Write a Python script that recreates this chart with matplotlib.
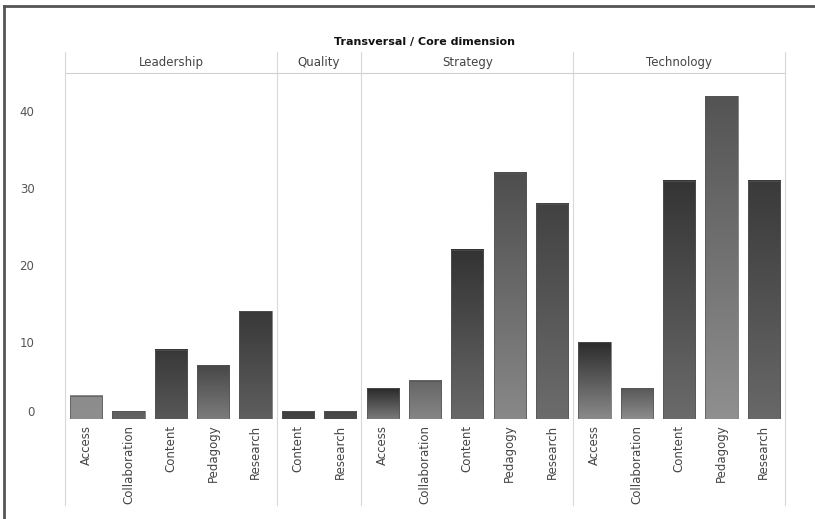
import matplotlib.pyplot as plt
import numpy as np
from matplotlib.colors import to_rgb
from matplotlib.transforms import blended_transform_factory
from matplotlib.lines import Line2D

# data
groups = ["Leadership", "Quality", "Strategy", "Technology"]
leadership_cats = ["Access", "Collaboration", "Content", "Pedagogy", "Research"]
leadership_vals = [3, 1, 9, 7, 14]
quality_cats = ["Content", "Research"]
quality_vals = [1, 1]
strategy_cats = ["Access", "Collaboration", "Content", "Pedagogy", "Research"]
strategy_vals = [4, 5, 22, 32, 28]
technology_cats = ["Access", "Collaboration", "Content", "Pedagogy", "Research"]
technology_vals = [10, 4, 31, 42, 31]

cats = [leadership_cats, quality_cats, strategy_cats, technology_cats]
vals = [leadership_vals, quality_vals, strategy_vals, technology_vals]

# shading of each bar (top, bottom)
shades = [
    [("#8c8c8c", "#8e8e8e"), ("#5e5e5e", "#646464"), ("#383838", "#585858"),
     ("#474747", "#7c7c7c"), ("#393939", "#5e5e5e")],
    [("#3e3e3e", "#444444"), ("#444444", "#4a4a4a")],
    [("#2a2a2a", "#7a7a7a"), ("#666666", "#858585"), ("#333333", "#686868"),
     ("#4e4e4e", "#888888"), ("#424242", "#6c6c6c")],
    [("#2c2c2c", "#8a8a8a"), ("#585858", "#8c8c8c"), ("#353535", "#6a6a6a"),
     ("#545454", "#8f8f8f"), ("#3a3a3a", "#686868")],
]

fig = plt.figure(figsize=(8.15, 5.19), dpi=100)
W, H = 815, 519
x0, x1, ytop, yzero = 65, 785, 73, 419
ax = fig.add_axes([x0 / W, 1 - yzero / H, (x1 - x0) / W, (yzero - ytop) / H])

labels = []
pos = 0
bounds = [-0.5]
centers = []
bw = 0.76
for g, (cs, vs, sh) in enumerate(zip(cats, vals, shades)):
    start = pos
    for c, v, (ct, cb) in zip(cs, vs, sh):
        n = 64
        t = np.linspace(0, 1, n)[:, None]
        grad = (1 - t) * np.array(to_rgb(cb)) + t * np.array(to_rgb(ct))
        ax.imshow(grad[:, None, :], extent=[pos - bw / 2, pos + bw / 2, 0, v],
                  origin="lower", aspect="auto", interpolation="bilinear", zorder=2)
        labels.append(c)
        pos += 1
    ax.bar(np.arange(start, pos), vs, width=bw, fill=False,
           edgecolor="#555555", linewidth=0.5, zorder=3)
    centers.append((start + pos - 1) / 2)
    bounds.append(pos - 0.5)

ax.set_xlim(-0.5, pos - 0.5)
ax.set_ylim(0, 45)

for s in ax.spines.values():
    s.set_visible(False)
ax.axhline(0, color="#d0d0d0", lw=0.8, zorder=1)
ax.axhline(45, color="#d0d0d0", lw=0.8, zorder=1, clip_on=False)

tr = blended_transform_factory(ax.transData, ax.transAxes)
for b in bounds:
    ax.plot([b, b], [(yzero - 505) / (yzero - ytop), (yzero - 52) / (yzero - ytop)],
            color="#d8d8d8", lw=0.8, transform=tr, clip_on=False, zorder=1)

for c, g in zip(centers, groups):
    ax.text(c, (yzero - 62) / (yzero - ytop), g, transform=tr, ha="center", va="center",
            fontsize=8.5, color="#444444", fontfamily="DejaVu Sans")

fig.text(425 / W, 1 - 42 / H, "Transversal / Core dimension", ha="center", va="center",
         fontsize=8, fontweight="bold", color="#111111")

ax.set_xticks(np.arange(pos))
ax.set_xticklabels(labels, rotation=90, fontsize=8.5, color="#444444")
ax.set_yticks([0, 10, 20, 30, 40])
ax.set_yticklabels(["0", "10", "20", "30", "40"], fontsize=8.5, color="#555555")
ax.get_yticklabels()[0].set_verticalalignment("bottom")
ax.tick_params(axis="both", length=0)
ax.tick_params(axis="x", pad=4)
ax.tick_params(axis="y", pad=22)

# frame at left and top
fig.add_artist(Line2D([4 / W, 4 / W], [0, 1 - 6 / H], color="#555555", lw=2))
fig.add_artist(Line2D([4 / W, 1], [1 - 6 / H, 1 - 6 / H], color="#555555", lw=2))

fig.savefig("out.png", dpi=100)
